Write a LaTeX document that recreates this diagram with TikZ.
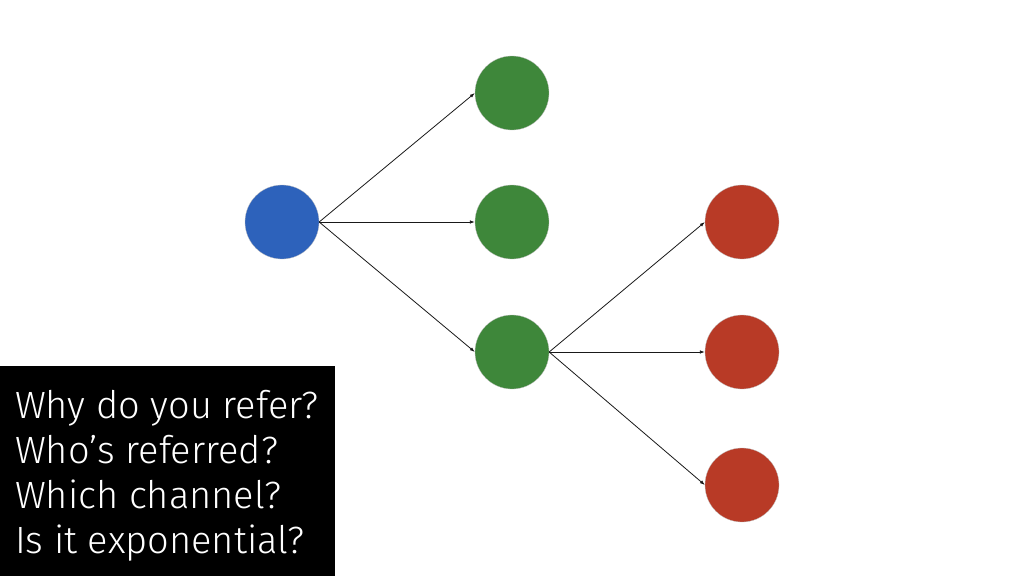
\documentclass[tikz,border=0pt]{standalone}
\usepackage{fontspec}
\newfontfamily\qfont{Fira Sans Light}
\usepackage{tikz}
\usetikzlibrary{positioning}
\usetikzlibrary{arrows.meta}
\usepackage{xcolor}
\definecolor{rootblue}{HTML}{2D62BB}
\definecolor{midgreen}{HTML}{3E873A}
\definecolor{leafred}{HTML}{B83A26}

\begin{document}
\begin{tikzpicture}[x=1pt, y=-1pt,
    dot/.style={circle, minimum size=74pt, inner sep=0pt, draw=black!25, line width=0.3pt},
    link/.style={black!90, line width=0.8pt, -{Latex[length=5pt, width=3.5pt]}}]
				    		\useasboundingbox (0, 0) rectangle (1024, 576);
				    		\node[dot, fill=rootblue] (root) at (282, 222) {};
				    		\node[dot, fill=midgreen] (g1) at (512, 93) {};
				    		\node[dot, fill=midgreen] (g2) at (512, 222) {};
				    		\node[dot, fill=midgreen] (g3) at (512, 352) {};
				    		\node[dot, fill=leafred] (r1) at (742, 222) {};
				    		\node[dot, fill=leafred] (r2) at (742, 352) {};
				    		\node[dot, fill=leafred] (r3) at (742, 485) {};
				    		\foreach \t in {g1, g2, g3}
				    			\draw[link] (root.east)--(\t.west);
				    		\foreach \t in {r1, r2, r3}
				    			\draw[link] (g3.east)--(\t.west);
				    		\fill[black] (0, 366) rectangle (335, 576);
				    		\node[anchor=base west, text=white, font=\qfont\fontsize{38}{45}\selectfont, align=left, inner sep=0pt] (questions) at (15, 553) {Why do you refer?\\Who’s referred?\\Which channel?\\Is it exponential?};
				    	\end{tikzpicture}
\end{document}
